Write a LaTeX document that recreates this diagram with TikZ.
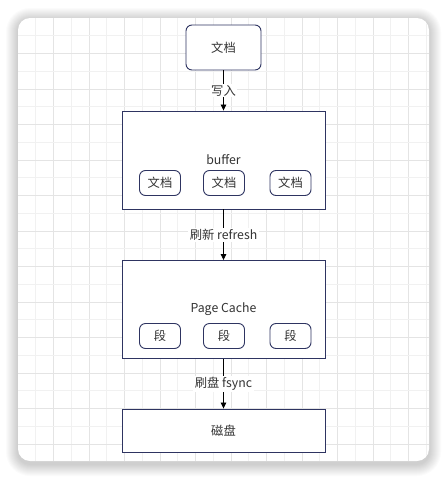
\documentclass[tikz,border=0pt]{standalone}
\usepackage{fontspec}
\setmainfont{Noto Sans CJK SC}
\usetikzlibrary{positioning,arrows.meta}

\definecolor{boxline}{HTML}{2E3461}
\definecolor{txt}{HTML}{333333}
\definecolor{gridminor}{HTML}{F1F1F1}
\definecolor{gridmajor}{HTML}{E4E4E4}

\tikzset{
  docbox/.style={draw=boxline, line width=0.9pt, rounded corners=6pt, fill=white,
    minimum width=75pt, minimum height=45pt, text=txt},
  layerbox/.style={draw=boxline, line width=0.9pt, fill=white,
    minimum width=203pt, minimum height=98pt, text=txt},
  itembox/.style={draw=boxline, line width=0.9pt, rounded corners=6pt, fill=white,
    minimum width=41pt, minimum height=25pt, text=txt},
  flow/.style={-{Triangle[length=6pt, width=5.5pt]}, line width=0.8pt},
  flowlabel/.style={fill=white, text=txt, inner sep=1.5pt}
}

\begin{document}
\begin{tikzpicture}[x=1pt, y=-1pt, font=\fontsize{12.3}{14}\selectfont]
    \useasboundingbox[fill=white] (0,0) rectangle (447,480);
    % card shadow
    \foreach \i in {1,...,12}
        \fill[black, opacity=0.014, rounded corners={12+\i}]
            ({18-\i},{20-\i}) rectangle ({429+\i},{464+\i});
    \fill[white, rounded corners=12pt] (18,18) rectangle (429,461);
    % grid
    \begin{scope}
        \clip[rounded corners=12pt] (18,18) rectangle (429,461);
        \foreach \k in {1,...,23} {
            \pgfmathsetmacro{\gx}{18+17.75*\k}
            \ifodd\k
                \draw[gridminor, line width=0.8pt] (\gx,18) -- (\gx,461);
            \else
                \draw[gridmajor, line width=1pt] (\gx,18) -- (\gx,461);
            \fi
        }
        \foreach \k in {1,...,24} {
            \pgfmathsetmacro{\gy}{18+17.75*\k}
            \ifodd\k
                \draw[gridminor, line width=0.8pt] (18,\gy) -- (429,\gy);
            \else
                \draw[gridmajor, line width=1pt] (18,\gy) -- (429,\gy);
            \fi
        }
    \end{scope}

    \node[docbox] (doc) at (223.5,47.5) {文档};
    \node[layerbox] (buffer) at (223.5,160) {buffer};
    \node[itembox] (bufdoc1) at (160,183) {文档};
    \node[itembox] (bufdoc2) at (224,183) {文档};
    \node[itembox] (bufdoc3) at (290.5,183) {文档};
    \node[layerbox] (cache) at (223.5,309.5) {Page Cache};
    \node[itembox] (seg1) at (160,336) {段};
    \node[itembox] (seg2) at (224,336) {段};
    \node[itembox] (seg3) at (290.5,336) {段};
    \node[layerbox, minimum height=43pt] (disk) at (223.5,430.5) {磁盘};

    \draw[flow] (doc) -- node[flowlabel] {写入} (buffer);
    \draw[flow] (buffer) -- node[flowlabel] {刷新 refresh} (cache);
    \draw[flow] (cache) -- node[flowlabel] {刷盘 fsync} (disk);
\end{tikzpicture}
\end{document}
